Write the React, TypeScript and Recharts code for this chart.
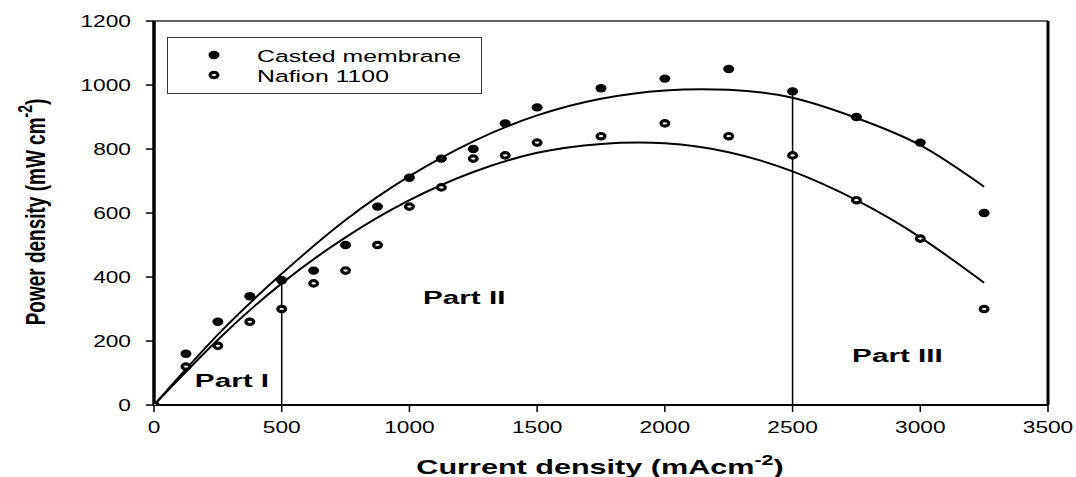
import React from "react";
import {
  ComposedChart,
  Scatter,
  Line,
  XAxis,
  YAxis,
  ReferenceLine,
  ReferenceDot,
  Legend,
} from "recharts";

// measured points
const currentDensity = [0, 125, 250, 375, 500, 625, 750, 875, 1000, 1125, 1250, 1375, 1500, 1750, 2000, 2250, 2500, 2750, 3000, 3250];
const castedPower = [0, 160, 260, 340, 390, 420, 500, 620, 710, 770, 800, 880, 930, 990, 1020, 1050, 980, 900, 820, 600];
const nafionPower = [0, 120, 185, 260, 300, 380, 420, 500, 620, 680, 770, 780, 820, 840, 880, 840, 780, 640, 520, 300];

// fitted curves
const fitCurrent = [0, 250, 500, 750, 1000, 1250, 1500, 1750, 2000, 2250, 2500, 2750, 3000, 3250];
const castedFit = [0, 220, 410, 578, 715, 824, 905, 957, 983, 985, 960, 897, 812, 682];
const nafionFit = [0, 204, 380, 524, 640, 728, 788, 816, 818, 790, 730, 640, 524, 382];

const xTicks = [0, 500, 1000, 1500, 2000, 2500, 3000, 3500];
const yTicks = [0, 200, 400, 600, 800, 1000, 1200];

const castedData = currentDensity.map((x, i) => ({ x, y: castedPower[i] }));
const nafionData = currentDensity.map((x, i) => ({ x, y: nafionPower[i] }));
const castedFitData = fitCurrent.map((x, i) => ({ x, y: castedFit[i] }));
const nafionFitData = fitCurrent.map((x, i) => ({ x, y: nafionFit[i] }));

const FONT = "'Liberation Sans', Arial, sans-serif";

const FilledDot = (p: any) => <ellipse cx={p.cx} cy={p.cy} rx={5.5} ry={4.2} fill="#000" />;
const OpenDot = (p: any) => (
  <ellipse cx={p.cx} cy={p.cy} rx={3.9} ry={2.7} fill="#fff" stroke="#000" strokeWidth={3.2} />
);

const XTick = (p: any) => (
  <text
    transform={`translate(${p.x},${p.y + 19}) scale(1.42,1)`}
    textAnchor="middle"
    fontFamily={FONT}
    fontSize={16}
    fill="#000"
  >
    {p.payload.value}
  </text>
);

const YTick = (p: any) => (
  <text
    transform={`translate(${p.x - 13},${p.y}) scale(1.42,1)`}
    textAnchor="end"
    dy="0.36em"
    fontFamily={FONT}
    fontSize={16}
    fill="#000"
  >
    {p.payload.value}
  </text>
);

const PartLabel = (text: string) => (p: any) => (
  <text
    transform={`translate(${p.cx},${p.cy}) scale(1.65,1)`}
    fontFamily={FONT}
    fontSize={18}
    fontWeight="bold"
    fill="#000"
  >
    {text}
  </text>
);

const LegendBox = () => (
  <svg width={315} height={57} style={{ display: "block" }}>
    <rect x={0.5} y={0.5} width={314} height={56} fill="#fff" stroke="#333" strokeWidth={1} />
    <FilledDot cx={47} cy={18} />
    <OpenDot cx={47} cy={38} />
    <text transform="translate(90,25) scale(1.46,1)" fontFamily={FONT} fontSize={17} fill="#000">
      Casted membrane
    </text>
    <text transform="translate(90,45) scale(1.46,1)" fontFamily={FONT} fontSize={17} fill="#000">
      Nafion 1100
    </text>
  </svg>
);

export default function App() {
  const p500 = castedPower[currentDensity.indexOf(500)];
  const p2500 = castedPower[currentDensity.indexOf(2500)];
  return (
    <div style={{ position: "absolute", left: 0, top: 0, background: "#fff" }}>
      <ComposedChart width={1076} height={477} margin={{ top: 21, right: 28, bottom: 0, left: 0 }}>
        <XAxis
          type="number"
          dataKey="x"
          domain={[0, 3500]}
          ticks={xTicks}
          height={72}
          tickSize={7}
          tick={<XTick />}
          tickLine={{ stroke: "#000", strokeWidth: 1.5 }}
          axisLine={{ stroke: "#000", strokeWidth: 2 }}
          allowDataOverflow
        />
        <YAxis
          type="number"
          dataKey="y"
          domain={[0, 1200]}
          ticks={yTicks}
          width={154}
          tickSize={8}
          tick={<YTick />}
          tickLine={{ stroke: "#000", strokeWidth: 1.5 }}
          axisLine={{ stroke: "#000", strokeWidth: 3.5 }}
          allowDataOverflow
        />
        <ReferenceLine y={1200} stroke="#333" strokeWidth={1.5} />
        <ReferenceLine x={3500} stroke="#000" strokeWidth={3} />
        <ReferenceLine segment={[{ x: 500, y: 0 }, { x: 500, y: p500 }]} stroke="#000" strokeWidth={1.5} />
        <ReferenceLine segment={[{ x: 2500, y: 0 }, { x: 2500, y: p2500 }]} stroke="#000" strokeWidth={1.5} />
        <Line data={castedFitData} dataKey="y" type="natural" stroke="#000" strokeWidth={2} dot={false} activeDot={false} legendType="none" isAnimationActive={false} />
        <Line data={nafionFitData} dataKey="y" type="natural" stroke="#000" strokeWidth={2} dot={false} activeDot={false} legendType="none" isAnimationActive={false} />
        <Scatter name="Casted membrane" data={castedData} dataKey="y" shape={FilledDot} isAnimationActive={false} />
        <Scatter name="Nafion 1100" data={nafionData} dataKey="y" shape={OpenDot} isAnimationActive={false} />
        <ReferenceDot x={160} y={56} shape={PartLabel("Part I")} />
        <ReferenceDot x={1053} y={316} shape={PartLabel("Part II")} />
        <ReferenceDot x={2733} y={134} shape={PartLabel("Part III")} />
        <Legend
          layout="horizontal"
          align="center"
          verticalAlign="middle"
          wrapperStyle={{ position: "absolute", left: 167, top: 37, width: 315, height: 57 }}
          content={() => <LegendBox />}
        />
      </ComposedChart>
      <svg width={1076} height={477} style={{ position: "absolute", left: 0, top: 0, pointerEvents: "none" }}>
        <text
          transform="translate(45,212) scale(1.45,1) rotate(-90)"
          textAnchor="middle"
          fontFamily={FONT}
          fontSize={19}
          fontWeight="bold"
          fill="#000"
        >
          Power density (mW cm
          <tspan dy={-9} fontSize={14}>-2</tspan>
          <tspan dy={9}>)</tspan>
        </text>
        <text
          transform="translate(600,474) scale(1.53,1)"
          textAnchor="middle"
          fontFamily={FONT}
          fontSize={20}
          fontWeight="bold"
          fill="#000"
        >
          Current density (mAcm
          <tspan dy={-9} fontSize={14}>-2</tspan>
          <tspan dy={9}>)</tspan>
        </text>
      </svg>
    </div>
  );
}
